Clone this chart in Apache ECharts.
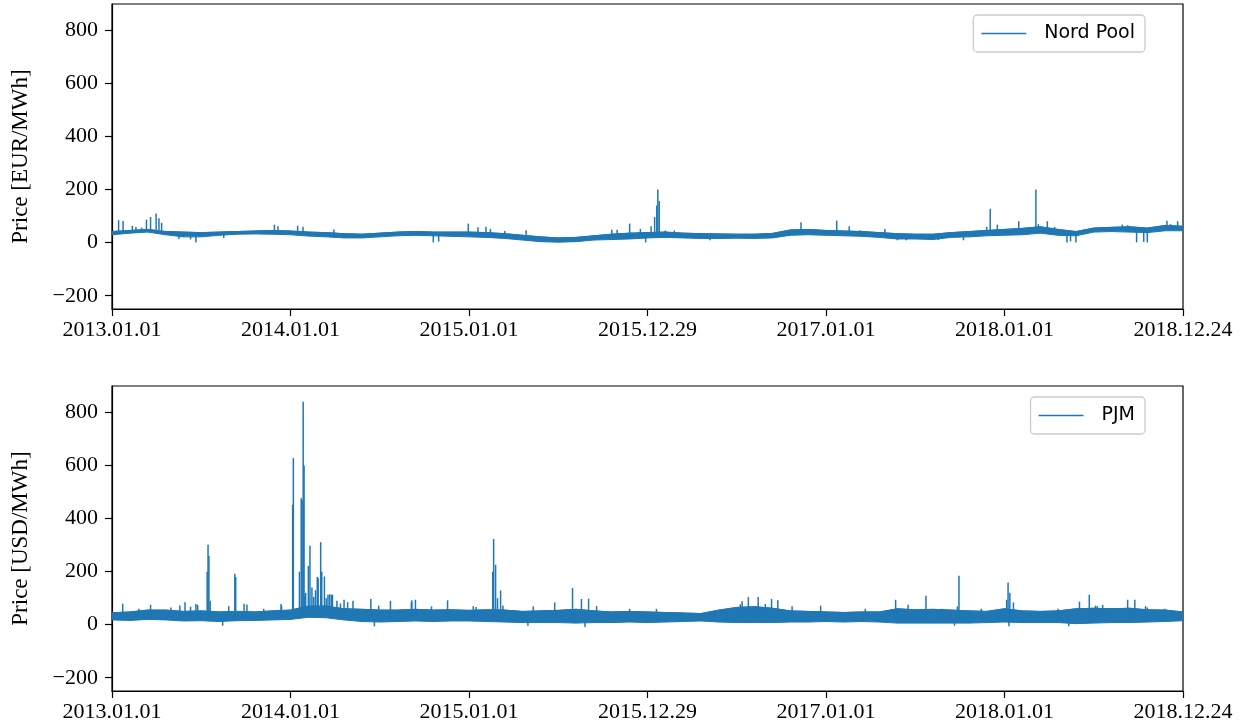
<!DOCTYPE html>
<html><head><meta charset="utf-8">
<script src="https://cdn.jsdelivr.net/npm/echarts@6/dist/echarts.min.js"></script>
<style>html,body{margin:0;padding:0;background:#fff}#c{width:1245px;height:728px}</style>
</head><body><div id="c"></div>
<script>
// x tick labels (one per equal step of the index axis)
const tickLabels = ['2013.01.01','2014.01.01','2015.01.01','2015.12.29','2017.01.01','2018.01.01','2018.12.24'];
const yTicks = [-200, 0, 200, 400, 600, 800];

const npLow = [30,36,40,30,22,22,28,32,33,32,
  30,25,22,18,18,22,26,28,26,24,
  22,20,16,10,4,2,4,10,12,14,
  18,20,18,16,16,17,16,18,28,30,
  28,26,24,20,14,14,12,20,22,26,
  28,30,36,28,26,40,42,40,38,45,
  45];
const npHigh = [42,46,50,42,40,38,40,42,44,46,
  44,40,38,34,32,36,40,42,40,40,
  40,38,34,28,22,18,20,26,32,36,
  38,40,36,34,33,32,32,35,48,50,
  46,44,42,38,34,32,32,38,42,46,
  50,54,60,50,42,55,58,60,55,65,
  62];
// spikes: [position, foot value, tip value]
const npSpikes = [
  [0.037,38,85],[0.062,40,82],[0.114,42,64],[0.134,42,59],[0.166,44,57],[0.193,46,87],[0.216,46,97],[0.247,48,110],[0.263,48,92],[0.278,45,75],
  [0.375,30,14],[0.44,30,12],[0.47,30,1],[0.626,32,18],
  [0.91,40,68],[0.93,40,62],[1.04,38,64],[1.07,36,60],[1.243,32,50],
  [1.80,30,1],[1.83,30,4],
  [1.996,35,72],[2.05,34,58],[2.095,33,60],[2.12,32,52],[2.2,30,44],[2.32,24,47],
  [2.80,25,49],[2.83,25,49],[2.90,28,72],[2.96,28,52],[2.99,28,1],
  [3.02,32,62],[3.04,34,97],[3.052,34,140],[3.058,34,201],[3.066,34,157],[3.1,32,46],[3.15,30,46],
  [3.35,25,9],[3.86,40,77],[4.06,38,83],[4.13,36,62],[4.19,35,47],[4.33,30,52],
  [4.40,26,9],[4.45,26,9],[4.60,24,10],[4.63,24,10],[4.77,30,9],
  [4.90,38,60],[4.92,38,128],[4.96,40,68],[5.08,42,81],[5.176,46,201],[5.19,46,70],[5.24,46,81],[5.28,40,60],
  [5.35,36,1],[5.37,36,5],[5.40,36,1],
  [5.66,50,68],[5.69,50,66],[5.74,45,1],[5.78,45,3],[5.80,45,1],
  [5.91,55,83],[5.93,55,70],[5.97,55,81]
];

const pjmLow = [18,16,20,18,14,15,12,15,16,18,
  20,28,26,18,12,10,12,14,12,14,
  14,12,10,8,8,8,6,8,8,10,
  8,10,12,14,10,8,8,8,10,10,
  12,10,12,10,6,6,6,6,6,8,
  10,8,8,8,4,6,8,8,10,12,
  15];
const pjmHigh = [45,48,55,55,50,52,48,50,48,52,
  55,70,70,60,58,55,55,58,55,56,
  54,56,55,50,52,54,58,52,48,50,
  48,46,44,42,55,65,68,62,52,50,
  48,46,48,48,60,56,58,55,52,50,
  60,52,50,52,60,62,60,62,56,55,
  48];
const pjmSpikes = [
  [0.06,30,79],[0.15,30,60],[0.216,30,75],[0.33,30,65],[0.38,30,72],[0.409,30,85],[0.44,30,68],[0.47,30,78],[0.48,30,75],
  [0.533,30,200],[0.538,30,301],[0.543,30,260],[0.55,30,90],
  [0.62,30,-4],[0.654,30,70],[0.688,30,192],[0.693,30,180],[0.74,30,79],[0.756,30,76],[0.85,30,60],[0.947,30,78],[0.95,30,70],
  [1.012,35,452],[1.016,35,628],[1.05,40,200],[1.06,40,477],[1.065,40,470],[1.071,40,841],[1.076,40,600],
  [1.08,40,110],[1.085,40,120],[1.10,40,222],[1.109,40,298],[1.12,40,140],[1.13,40,105],[1.14,40,130],[1.15,40,180],[1.155,40,175],
  [1.169,40,311],[1.175,40,200],[1.19,40,182],[1.2,40,100],[1.21,40,113],[1.22,40,115],[1.23,40,113],[1.235,40,113],[1.26,35,90],
  [1.28,35,80],[1.30,30,94],[1.32,35,85],[1.35,30,90],[1.45,30,97],[1.47,30,-6],[1.494,30,72],[1.56,30,90],[1.677,30,85],[1.68,30,92],[1.70,30,94],
  [1.79,30,69],[1.88,30,92],[2.024,30,70],[2.04,30,67],
  [2.133,30,200],[2.138,30,323],[2.149,30,226],[2.16,30,100],[2.177,30,129],[2.19,30,72],
  [2.33,25,-4],[2.36,25,69],[2.48,25,84],[2.58,25,138],[2.63,25,97],[2.65,25,-9],[2.67,25,98],[2.715,25,70],
  [2.90,25,60],[3.05,25,60],
  [3.52,30,77],[3.53,30,88],[3.565,30,104],[3.62,30,104],[3.66,30,78],[3.695,30,97],[3.73,30,92],[3.81,30,70],
  [3.97,30,72],[4.22,30,60],[4.39,30,94],[4.46,30,75],[4.56,30,109],[4.65,30,60],[4.72,25,-4],[4.736,30,69],[4.745,30,185],[4.87,30,60],
  [5.012,30,94],[5.02,30,159],[5.025,30,-6],[5.03,30,120],[5.05,30,84],
  [5.30,30,60],[5.36,25,-6],[5.42,30,87],[5.475,30,113],[5.51,30,72],[5.52,30,70],[5.55,30,75],[5.69,30,94],[5.73,30,94],[5.79,30,70],[5.80,30,65],[5.90,30,60]
];

const BLUE = '#1f77b4';
const SERIF = 'Liberation Serif';
const SANS = 'DejaVu Sans';

function fmtY(v){ return v < 0 ? '\u2212' + (-v) : String(v); }

function xAxis(gi){
  return {
    gridIndex: gi, type: 'value', min: 0, max: 6, interval: 1,
    axisLine: {show: true, onZero: false, lineStyle: {color: '#000', width: 1.2}},
    axisTick: {show: true, length: 7, lineStyle: {color: '#000', width: 1.2}},
    axisLabel: {formatter: v => tickLabels[Math.round(v)], fontFamily: SERIF, fontSize: 22, color: '#000', margin: 10, showMinLabel: true, showMaxLabel: true},
    splitLine: {show: false}
  };
}
function yAxis(gi, name){
  return {
    gridIndex: gi, type: 'value', min: -250, max: 900,
    axisLine: {show: true, onZero: false, lineStyle: {color: '#000', width: 1.2}},
    axisTick: {show: true, length: 7, customValues: yTicks, lineStyle: {color: '#000', width: 1.2}},
    axisLabel: {customValues: yTicks, formatter: fmtY, fontFamily: SERIF, fontSize: 22, color: '#000', margin: 14},
    splitLine: {show: false},
    name: name, nameLocation: 'middle', nameGap: 80,
    nameTextStyle: {fontFamily: SERIF, fontSize: 23, color: '#000'}
  };
}
// band: filled quadrilaterals between consecutive samples of low/high envelope
function band(gi, lo, hi){
  const segs = [];
  for (let i = 0; i < lo.length - 1; i++) {
    segs.push([i / 10, lo[i], hi[i], (i + 1) / 10, lo[i + 1], hi[i + 1]]);
  }
  return {
    type: 'custom', xAxisIndex: gi, yAxisIndex: gi, silent: true, clip: true,
    encode: {x: [0, 3], y: [1, 2, 4, 5]},
    data: segs,
    renderItem: (params, api) => {
      const p1 = api.coord([api.value(0), api.value(1)]);
      const p2 = api.coord([api.value(3), api.value(4)]);
      const p3 = api.coord([api.value(3), api.value(5)]);
      const p4 = api.coord([api.value(0), api.value(2)]);
      return {type: 'polygon', shape: {points: [p1, p2, p3, p4]}, style: {fill: BLUE, stroke: BLUE, lineWidth: 1}};
    }
  };
}
// the upper envelope as a named line (also gives the legend entry)
function edge(gi, name, hi){
  return {name: name, type: 'line', xAxisIndex: gi, yAxisIndex: gi, symbol: 'none', silent: true,
    color: BLUE, lineStyle: {color: BLUE, width: 1}, data: hi.map((v, i) => [i / 10, v])};
}
function spikes(gi, arr){
  return {
    type: 'custom', xAxisIndex: gi, yAxisIndex: gi, silent: true, clip: true,
    encode: {x: 0, y: [1, 2]},
    data: arr,
    renderItem: (params, api) => {
      const a = api.coord([api.value(0), api.value(1)]);
      const b = api.coord([api.value(0), api.value(2)]);
      return {type: 'line', shape: {x1: a[0], y1: a[1], x2: b[0], y2: b[1]}, style: {stroke: BLUE, lineWidth: 1.5}};
    }
  };
}
function legend(name, top){
  return {
    data: [name], right: 100, top: top, orient: 'horizontal', selectedMode: false,
    icon: 'rect', itemWidth: 45, itemHeight: 1.3,
    backgroundColor: '#fff', borderColor: '#cccccc', borderWidth: 1.3, borderRadius: 4,
    padding: [9, 10, 9, 8],
    textStyle: {fontFamily: SANS, fontSize: 19, color: '#000', padding: [0, 0, 0, 13]}
  };
}

const chart = echarts.init(document.getElementById('c'), null, {renderer: 'canvas'});
chart.setOption({
  animation: false,
  backgroundColor: '#fff',
  grid: [
    {left: 112, top: 4, width: 1071, height: 305, show: true, borderColor: '#000', borderWidth: 1.2, backgroundColor: 'transparent', containLabel: false, outerBoundsMode: 'none'},
    {left: 112, top: 386, width: 1071, height: 305, show: true, borderColor: '#000', borderWidth: 1.2, backgroundColor: 'transparent', containLabel: false, outerBoundsMode: 'none'}
  ],
  xAxis: [xAxis(0), xAxis(1)],
  yAxis: [yAxis(0, 'Price [EUR/MWh]'), yAxis(1, 'Price [USD/MWh]')],
  legend: [legend('Nord Pool', 15), legend('PJM', 397)],
  series: [
    band(0, npLow, npHigh),
    edge(0, 'Nord Pool', npHigh),
    spikes(0, npSpikes),
    band(1, pjmLow, pjmHigh),
    edge(1, 'PJM', pjmHigh),
    spikes(1, pjmSpikes)
  ]
});
</script></body></html>
